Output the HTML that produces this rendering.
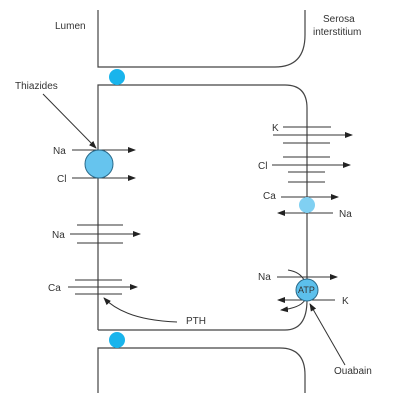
<!DOCTYPE html>
<html><head><meta charset="utf-8"><style>
html,body{margin:0;padding:0;background:#fff}
svg{display:block}
text{font-family:"Liberation Sans",sans-serif;font-size:10px;fill:#333}
</style></head><body>
<svg width="405" height="400" viewBox="0 0 405 400" xmlns="http://www.w3.org/2000/svg">
<defs>
<marker id="a" markerWidth="8" markerHeight="6" refX="7" refY="3" orient="auto" markerUnits="userSpaceOnUse"><path d="M0,0 L8,3 L0,6 Z" fill="#222"/></marker>
</defs>
<g fill="none" stroke="#444" stroke-width="1.2">
<path d="M98,10 V67 H275 Q305,67 305,35 V10"/>
<path d="M98,330 V85 H285 Q307,85 307,108 V300"/>
<path d="M98,330 H285 Q307,330 307,300"/>
<path d="M98,393 V348 H280 Q305,348 305,375 V393"/>
</g>
<circle cx="117" cy="77" r="8" fill="#19b4ec"/>
<circle cx="117" cy="340" r="8" fill="#19b4ec"/>
<text x="55" y="29">Lumen</text>
<text x="323" y="22">Serosa</text>
<text x="313" y="35">interstitium</text>
<text x="15" y="89">Thiazides</text>
<g stroke="#333" stroke-width="1" fill="none">
<line x1="43" y1="94" x2="96" y2="148" marker-end="url(#a)"/>
<line x1="72" y1="150" x2="135" y2="150" marker-end="url(#a)"/>
<line x1="72" y1="178" x2="135" y2="178" marker-end="url(#a)"/>
<line x1="77" y1="225" x2="123" y2="225"/><line x1="77" y1="243" x2="123" y2="243"/>
<line x1="70" y1="234" x2="140" y2="234" marker-end="url(#a)"/>
<line x1="75" y1="280" x2="122" y2="280"/><line x1="75" y1="294" x2="122" y2="294"/>
<line x1="68" y1="287" x2="137" y2="287" marker-end="url(#a)"/>
<path d="M177,322 Q125,320 104,298" marker-end="url(#a)"/>
<line x1="283" y1="127" x2="331" y2="127"/>
<line x1="273" y1="135" x2="352" y2="135" marker-end="url(#a)"/>
<line x1="283" y1="143" x2="330" y2="143"/><line x1="283" y1="157" x2="330" y2="157"/>
<line x1="272" y1="165" x2="350" y2="165" marker-end="url(#a)"/>
<line x1="288" y1="172" x2="325" y2="172"/><line x1="288" y1="182" x2="325" y2="182"/>
<line x1="281" y1="197" x2="338" y2="197" marker-end="url(#a)"/>
<line x1="333" y1="213" x2="278" y2="213" marker-end="url(#a)"/>
<line x1="277" y1="277" x2="337" y2="277" marker-end="url(#a)"/>
<line x1="335" y1="300" x2="278" y2="300" marker-end="url(#a)"/>
<path d="M288,270 Q300,272 304,280"/>
<path d="M305,300 Q300,308 281,310" marker-end="url(#a)"/>
<line x1="345" y1="365" x2="310" y2="304" marker-end="url(#a)"/>
</g>
<circle cx="99" cy="164" r="14" fill="#66c4ee" stroke="#2a6a8a" stroke-width="1"/>
<circle cx="307" cy="205" r="8" fill="#80d0f2"/>
<circle cx="307" cy="290" r="11" fill="#5cc0ec" stroke="#2a6a8a" stroke-width="1"/>
<text x="298" y="293" style="font-size:9px">ATP</text>
<text x="53" y="154">Na</text>
<text x="57" y="182">Cl</text>
<text x="52" y="238">Na</text>
<text x="48" y="291">Ca</text>
<text x="186" y="324">PTH</text>
<text x="272" y="131">K</text>
<text x="258" y="169">Cl</text>
<text x="263" y="199">Ca</text>
<text x="339" y="217">Na</text>
<text x="258" y="280">Na</text>
<text x="342" y="304">K</text>
<text x="334" y="374">Ouabain</text>
</svg>
</body></html>
